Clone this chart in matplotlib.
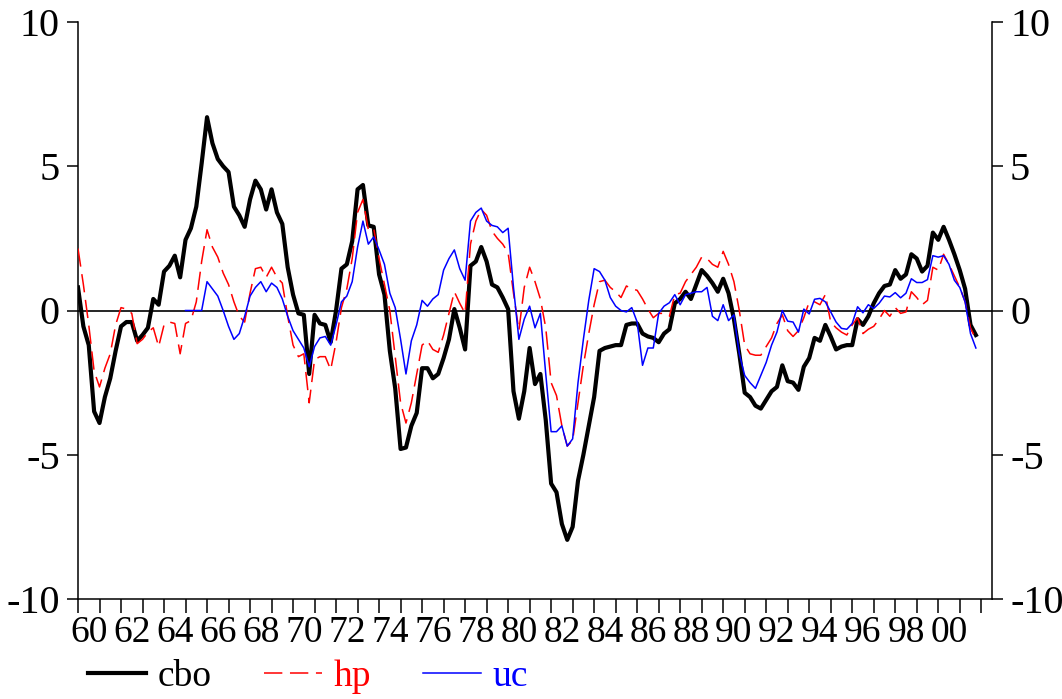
import numpy as np
import matplotlib
matplotlib.use('Agg')
import matplotlib.pyplot as plt
from matplotlib.ticker import FixedLocator, FixedFormatter

plt.rcParams['font.family'] = ['Liberation Serif', 'DejaVu Serif']
plt.rcParams['axes.unicode_minus'] = False

# Output gap estimates, quarterly 1960Q1-2001Q4 (percent)
cbo = [
    0.8, -0.55, -1.2, -3.5,   -3.9, -3.0, -2.35, -1.4,
    -0.55, -0.4, -0.4, -1.05,  -0.85, -0.6, 0.4, 0.2,
    1.35, 1.55, 1.9, 1.15,    2.45, 2.85, 3.6, 5.1,
    6.7, 5.8, 5.25, 5.0,      4.8, 3.6, 3.3, 2.9,
    3.85, 4.5, 4.2, 3.5,      4.2, 3.4, 3.0, 1.5,
    0.55, -0.1, -0.15, -2.2,  -0.15, -0.45, -0.5, -1.1,
    0.0, 1.45, 1.6, 2.4,      4.2, 4.35, 2.95, 2.9,
    1.25, 0.55, -1.4, -2.7,   -4.8, -4.75, -4.0, -3.55,
    -2.0, -2.0, -2.35, -2.2,  -1.65, -1.0, 0.05, -0.6,
    -1.35, 1.55, 1.7, 2.2,    1.7, 0.9, 0.8, 0.45,
    0.05, -2.8, -3.75, -2.8,  -1.3, -2.55, -2.2, -3.8,
    -6.0, -6.3, -7.4, -7.95,  -7.5, -5.9, -5.0, -4.0,
    -3.0, -1.4, -1.3, -1.25,  -1.2, -1.2, -0.5, -0.45,
    -0.45, -0.8, -0.9, -0.95, -1.1, -0.8, -0.65, 0.25,
    0.4, 0.65, 0.4, 0.9,      1.4, 1.2, 0.95, 0.65,
    1.1, 0.6, -0.3, -1.5,     -2.85, -3.0, -3.3, -3.4,
    -3.1, -2.8, -2.65, -1.9,  -2.45, -2.5, -2.75, -1.95,
    -1.65, -0.95, -1.05, -0.5, -0.9, -1.35, -1.25, -1.2,
    -1.2, -0.3, -0.5, -0.2,   0.25, 0.6, 0.85, 0.9,
    1.4, 1.1, 1.25, 1.95,     1.8, 1.35, 1.55, 2.7,
    2.45, 2.9, 2.45, 1.95,    1.4, 0.75, -0.5, -0.85,
]

hp = [
    2.15, 0.9, -0.5, -2.1,    -2.65, -2.0, -1.5, -0.5,
    0.1, 0.05, -0.1, -1.15,   -1.0, -0.75, -0.6, -1.25,
    -0.5, -0.4, -0.45, -1.5,  -0.45, -0.35, 0.3, 1.7,
    2.8, 2.2, 1.85, 1.3,      0.9, 0.3, -0.2, -0.4,
    0.6, 1.45, 1.5, 1.15,     1.5, 1.15, 0.95, -0.2,
    -1.2, -1.6, -1.5, -3.2,   -1.7, -1.6, -1.6, -2.05,
    -1.1, 0.1, 0.75, 1.8,     3.4, 3.85, 2.8, 2.85,
    1.8, 0.9, 0.0, -1.6,      -3.2, -3.9, -3.2, -2.2,
    -1.2, -1.05, -1.35, -1.45, -0.85, -0.1, 0.65, 0.25,
    -0.1, 2.3, 3.1, 3.5,      3.3, 2.75, 2.5, 2.3,
    2.0, 0.6, -0.7, 0.8,      1.5, 1.0, 0.4, -0.6,
    -2.5, -2.95, -4.0, -4.7,  -4.5, -3.2, -1.9, -0.8,
    0.2, 1.0, 1.05, 0.8,      0.65, 0.45, 0.85, 0.75,
    0.7, 0.4, 0.05, -0.25,    -0.1, -0.1, -0.2, 0.55,
    0.6, 1.0, 1.25, 1.5,      1.85, 1.8, 1.6, 1.5,
    2.05, 1.6, 1.0, 0.0,      -1.2, -1.5, -1.55, -1.55,
    -1.25, -0.95, -0.45, -0.15, -0.7, -0.9, -0.7, -0.25,
    0.3, 0.3, 0.2, 0.55,      -0.4, -0.6, -0.75, -0.85,
    -0.5, -0.25, -0.8, -0.65, -0.55, -0.3, 0.0, -0.2,
    0.1, -0.1, -0.05, 0.65,   0.45, 0.2, 0.35, 1.5,
    1.4, 1.95, 1.6, 1.2,      0.8, 0.3, -0.6, -1.0,
]

nan = np.nan
uc = [
    nan, nan, nan, nan,       nan, nan, nan, nan,
    nan, nan, nan, nan,       nan, nan, nan, nan,
    nan, nan, nan, nan,       0.0, 0.0, 0.0, 0.0,
    1.0, 0.75, 0.5, 0.0,      -0.55, -1.0, -0.8, -0.2,
    0.5, 0.8, 1.0, 0.65,      0.95, 0.8, 0.4, -0.2,
    -0.7, -1.0, -1.3, -1.95,  -1.25, -0.95, -0.9, -1.2,
    -0.5, 0.3, 0.5, 1.0,      2.2, 3.1, 2.3, 2.55,
    2.1, 1.6, 0.6, 0.1,       -1.0, -2.2, -1.05, -0.5,
    0.35, 0.15, 0.4, 0.55,    1.4, 1.8, 2.1, 1.45,
    1.05, 3.1, 3.4, 3.55,     3.1, 2.95, 2.9, 2.7,
    2.85, 0.8, -1.0, -0.3,    0.15, -0.6, -0.1, -2.2,
    -4.2, -4.2, -4.0, -4.7,   -4.45, -2.5, -1.0, 0.35,
    1.45, 1.35, 1.05, 0.45,   0.15, 0.0, -0.05, 0.1,
    -0.4, -1.9, -1.3, -1.3,   -0.1, 0.15, 0.27, 0.55,
    0.2, 0.55, 0.6, 0.65,     0.65, 0.8, -0.2, -0.35,
    0.2, -0.35, -0.15, -1.5,  -2.25, -2.5, -2.7, -2.25,
    -1.8, -1.2, -0.75, 0.0,   -0.37, -0.4, -0.75, 0.05,
    -0.12, 0.39, 0.42, 0.3,   -0.05, -0.4, -0.62, -0.65,
    -0.45, 0.13, -0.08, 0.2,  0.07, 0.25, 0.5, 0.47,
    0.62, 0.44, 0.6, 1.1,     0.97, 0.97, 1.07, 1.9,
    1.85, 1.9, 1.6, 1.05,     0.8, 0.3, -0.8, -1.3,
]

start_year = 1960
year_labels = ['60', '62', '64', '66', '68', '70', '72', '74', '76', '78',
               '80', '82', '84', '86', '88', '90', '92', '94', '96', '98', '00']

t = start_year + np.arange(len(cbo)) / 4.0

W, H = 1062, 699
fig = plt.figure(figsize=(W / 100, H / 100), dpi=100)
ax = fig.add_axes([78 / W, 1 - 599 / H, (992 - 78) / W, (599 - 22) / H])

ax.axhline(0, color='black', lw=1.2, zorder=1)
ax.plot(t, cbo, color='black', lw=3.0, label='cbo', zorder=3)
ax.plot(t, hp, color='red', lw=1.1, ls=(0, (12, 5)), label='hp', zorder=4)
ax.plot(t, uc, color='blue', lw=1.1, label='uc', zorder=5)

ax.set_xlim(1960, 2002.5)
ax.set_ylim(-10, 10)

# spines: no top border
ax.spines['top'].set_visible(False)
for s in ['left', 'right', 'bottom']:
    ax.spines[s].set_linewidth(1.1)

ax.set_yticks([-10, -5, 0, 5, 10])
ax.tick_params(axis='y', which='both', left=True, right=True,
               labelleft=True, labelright=True, direction='out',
               length=8, width=1.1, pad=5, labelsize=29)

# year ticks at year boundaries, labels centred on every second year
ax.xaxis.set_minor_locator(FixedLocator(np.arange(1960, 2003)))
ax.xaxis.set_major_locator(FixedLocator(np.arange(len(year_labels)) * 2 + 1960.5))
ax.xaxis.set_major_formatter(FixedFormatter(year_labels))
ax.tick_params(axis='x', which='minor', direction='out', length=10, width=1.1)
ax.tick_params(axis='x', which='major', length=0, pad=12, labelsize=27)

ax.legend(loc='center left', bbox_to_anchor=(88 / W, 1 - 677 / H),
          bbox_transform=fig.transFigure, ncol=3, frameon=False, fontsize=27,
          handlelength=1.55, handletextpad=0.3, columnspacing=1.4,
          borderpad=0, borderaxespad=0, labelcolor='linecolor')

fig.savefig('out.png', dpi=100)
